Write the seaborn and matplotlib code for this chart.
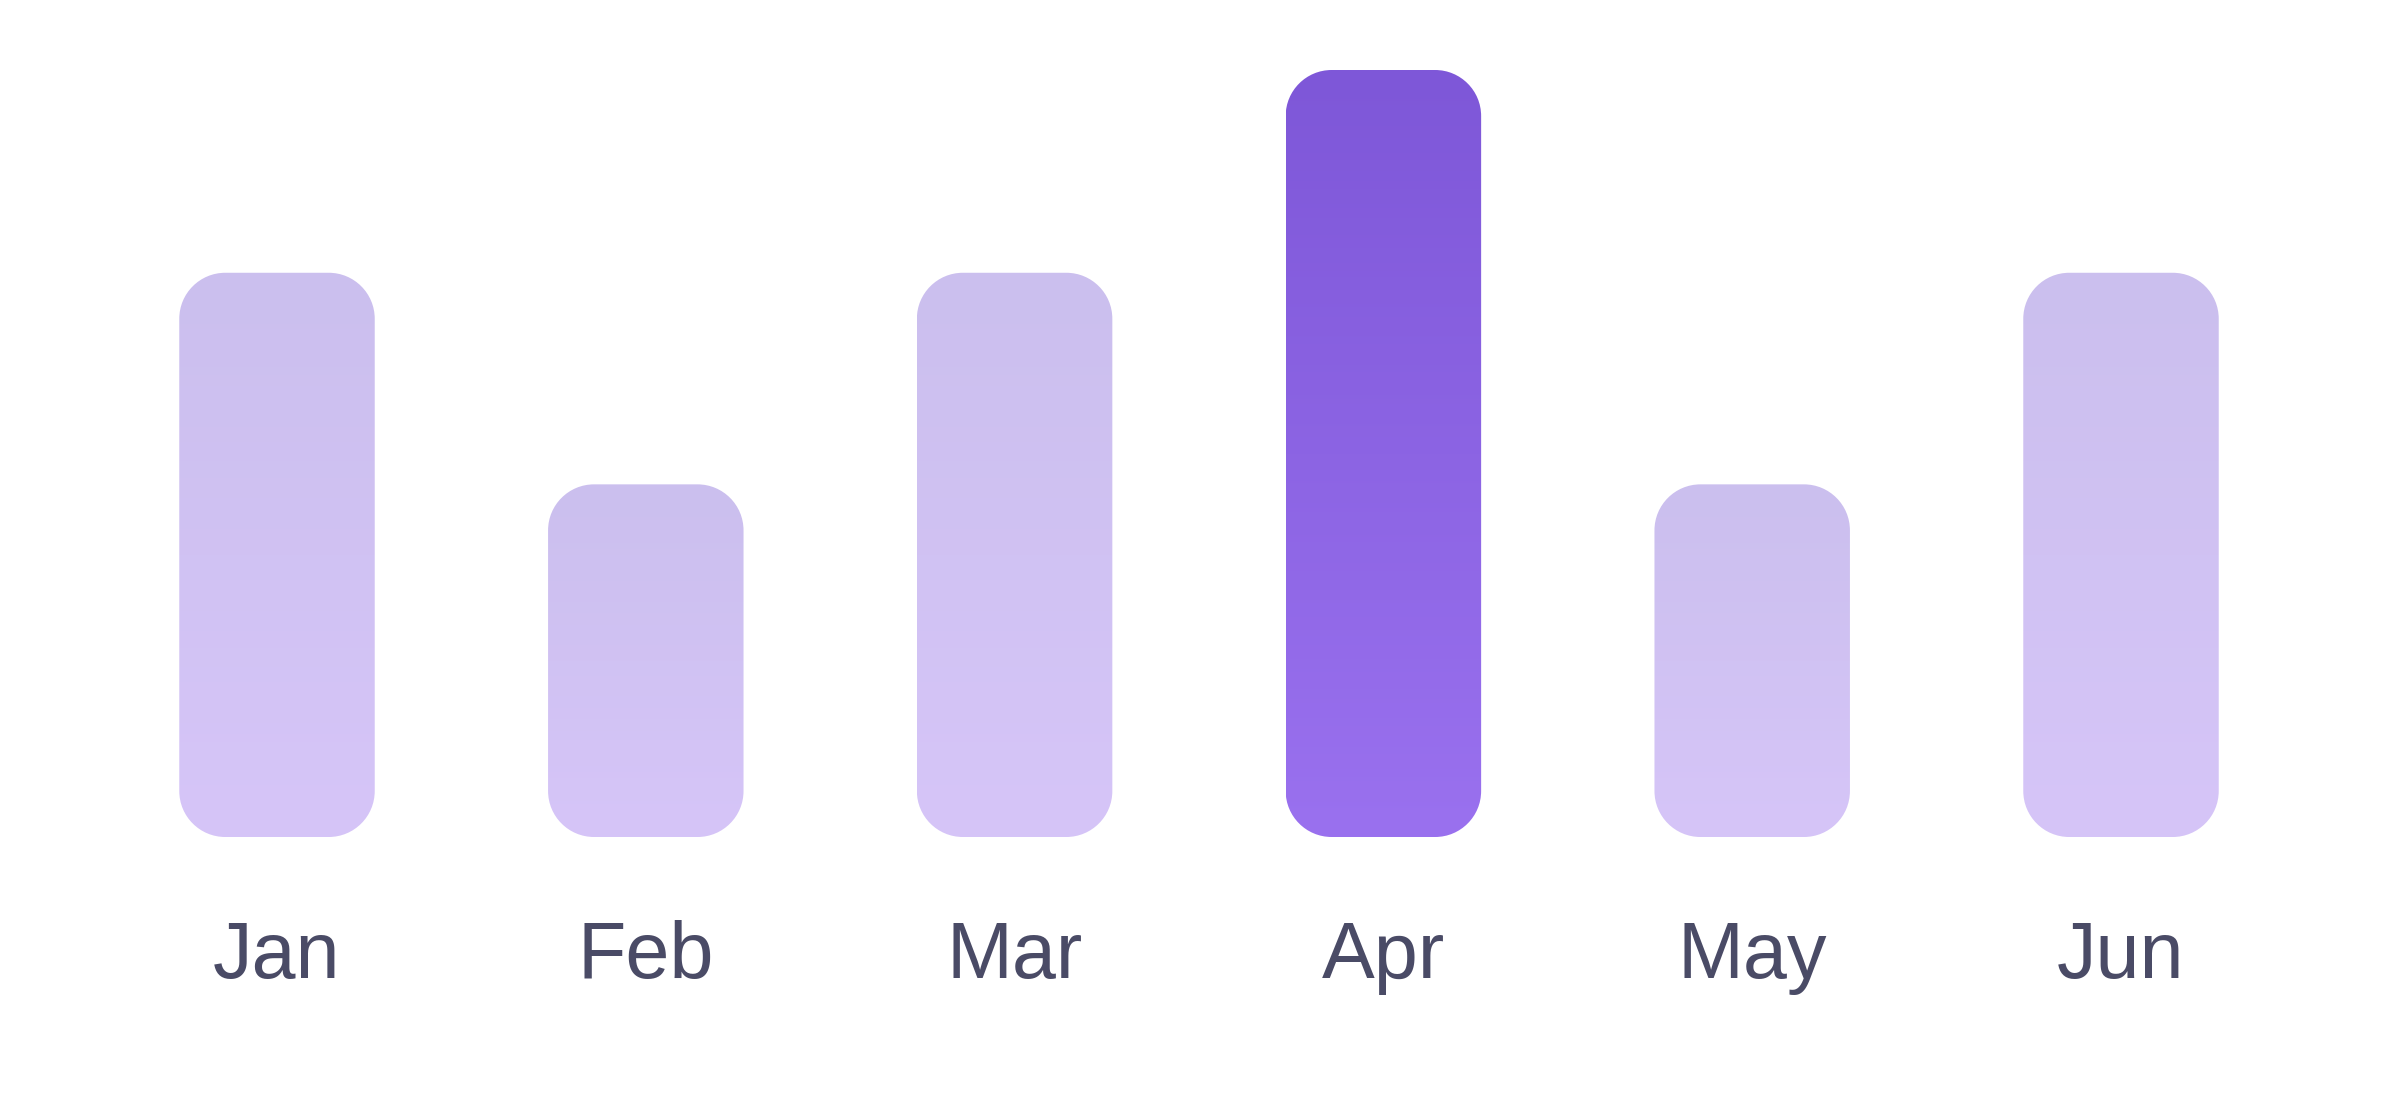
import matplotlib
matplotlib.use("Agg")
import matplotlib.pyplot as plt
import seaborn as sns
import numpy as np
import pandas as pd
from matplotlib import font_manager
from matplotlib.patches import PathPatch
from matplotlib.path import Path
from matplotlib.colors import LinearSegmentedColormap
from matplotlib.transforms import Affine2D, blended_transform_factory, ScaledTranslation

# dati
mesi = ["Jan", "Feb", "Mar", "Apr", "May", "Jun"]
valori = [64, 40, 64, 87, 40, 64]
evidenziato = "Apr"

# colori (alto -> basso del gradiente)
chiaro = ("#cbbfee", "#d6c5f8")
scuro = ("#7e57d8", "#9a71ef")
colore_testo = "#4a4b66"

W, H, DPI = 2400, 1093, 100
sns.set_theme(style="white")
plt.rcParams["font.family"] = ["Liberation Sans", "DejaVu Sans"]

# font delle etichette: Liberation Sans regular (fallback su DejaVu)
font_etichette = font_manager.FontProperties(family=["Liberation Sans", "DejaVu Sans"])
for f in font_manager.fontManager.ttflist:
    if f.name == "Liberation Sans" and f.style == "normal" \
            and f.weight in (400, "normal", "regular"):
        font_etichette = font_manager.FontProperties(fname=f.fname)
        break
font_etichette.set_size(57)


def rettangolo_arrotondato(x, y, w, h, r):
    """Path di un rettangolo con angoli ad arco di cerchio (bezier cubiche)"""
    k = 0.5523 * r
    v = [(x + r, y), (x + w - r, y),
         (x + w - r + k, y), (x + w, y + r - k), (x + w, y + r),
         (x + w, y + h - r),
         (x + w, y + h - r + k), (x + w - r + k, y + h), (x + w - r, y + h),
         (x + r, y + h),
         (x + r - k, y + h), (x, y + h - r + k), (x, y + h - r),
         (x, y + r),
         (x, y + r - k), (x + r - k, y), (x + r, y),
         (x + r, y)]
    c = ([Path.MOVETO, Path.LINETO] + [Path.CURVE4] * 3 + [Path.LINETO]
         + [Path.CURVE4] * 3 + [Path.LINETO] + [Path.CURVE4] * 3
         + [Path.LINETO] + [Path.CURVE4] * 3 + [Path.CLOSEPOLY])
    return Path(v, c)


df = pd.DataFrame({"mese": mesi, "valore": valori})

fig = plt.figure(figsize=(W / DPI, H / DPI), dpi=DPI)
base_px = 1093 - 837
ax = fig.add_axes([0, base_px / H, 1, 1 - base_px / H])

sns.barplot(data=df, x="mese", y="valore", ax=ax, width=0.53, color="#cccccc")

# scala: centri 0..5 -> px 277..2121
px_x = (2121 - 277) / 5
px_y = (837 - 70) / 87
xlim = (-277 / px_x, 5 + (W - 2121) / px_x)
ylim = (0, (H - base_px) / px_y)
ax.set_xlim(*xlim)
ax.set_ylim(*ylim)

# trasformazione da "pixel" a dati, per angoli davvero circolari
tr_px = Affine2D().scale(1 / px_x, 1 / px_y) + ax.transData
raggio_px = 46

centri = []
for patch, mese in zip(ax.patches, mesi):
    x0, w, h = patch.get_x(), patch.get_width(), patch.get_height()
    centri.append(x0 + w / 2)
    patch.set_visible(False)
    top, bot = scuro if mese == evidenziato else chiaro
    forma = rettangolo_arrotondato(x0 * px_x, 0, w * px_x, h * px_y, raggio_px)
    box = PathPatch(forma, transform=tr_px, facecolor="none",
                    edgecolor="none", clip_on=False)
    ax.add_patch(box)
    cmap = LinearSegmentedColormap.from_list("g", [bot, top])
    grad = np.linspace(0, 1, 256).reshape(-1, 1)
    im = ax.imshow(grad, cmap=cmap, origin="lower", aspect="auto",
                   extent=(x0, x0 + w, 0, h), interpolation="bicubic")
    im.set_clip_path(box)

ax.set_xlim(*xlim)
ax.set_ylim(*ylim)
ax.set_xlabel("")
ax.set_ylabel("")
ax.set_yticks([])
ax.set_xticks([])
sns.despine(ax=ax, left=True, bottom=True)

# etichette dei mesi sotto le barre (testo vero, centrato sulla barra)
tr_etichette = blended_transform_factory(ax.transData, ax.transAxes) + \
    ScaledTranslation(0, -60 / 72, fig.dpi_scale_trans)
for xc, mese in zip(centri, mesi):
    ax.text(xc, 0, mese, transform=tr_etichette, ha="center", va="top",
            fontproperties=font_etichette, color=colore_testo, clip_on=False)

fig.savefig("out.png", dpi=DPI, facecolor="white")
